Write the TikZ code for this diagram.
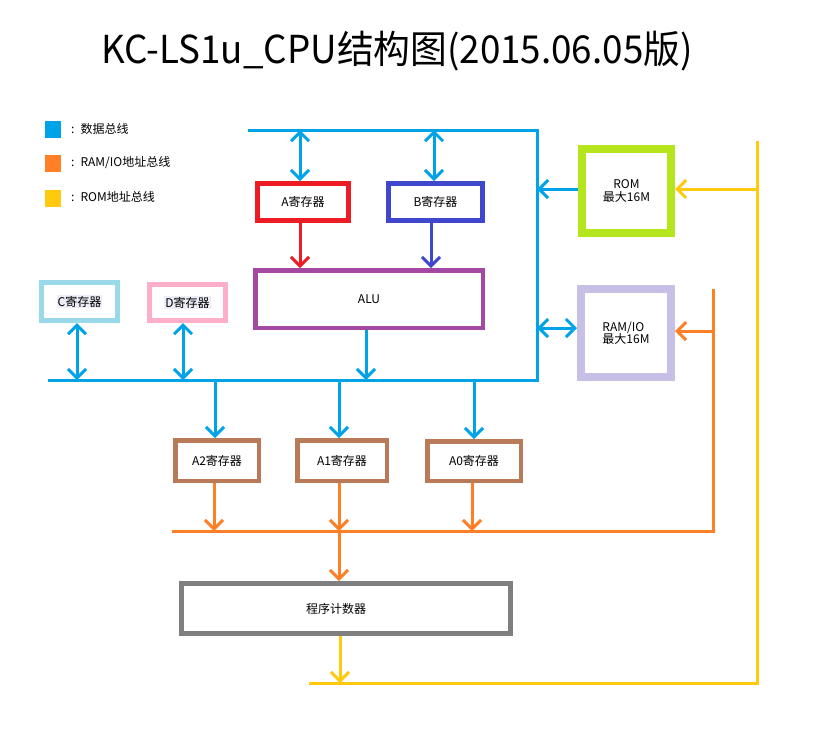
\documentclass[tikz,border=0pt]{standalone}
\usepackage{fontspec}
\setmainfont{Noto Sans CJK SC}
\usetikzlibrary{arrows.meta}
\definecolor{busblue}{HTML}{00A2E8}
\definecolor{aorange}{HTML}{FF7F27}
\definecolor{ayellow}{HTML}{FFC90E}
\definecolor{regred}{HTML}{ED1C24}
\definecolor{regindigo}{HTML}{3F48CC}
\definecolor{regpurple}{HTML}{A349A4}
\definecolor{reglblue}{HTML}{99D9EA}
\definecolor{regpink}{HTML}{FFAEC9}
\definecolor{regbrown}{HTML}{B97A57}
\definecolor{reggray}{HTML}{7F7F7F}
\definecolor{romlime}{HTML}{B5E61D}
\definecolor{ramlav}{HTML}{C8BFE7}
\definecolor{lblbg}{HTML}{ECEDF8}
\begin{document}
\begin{tikzpicture}[x=1pt,y=-1pt,
  >={Straight Barb[length=9pt,width=18pt]},
  bus/.style={line width=3pt},
  reg/.style={draw, rectangle, inner sep=0pt, font=\fontsize{12}{12.5}\selectfont},
  lbl/.style={font=\fontsize{12}{14}\selectfont, inner sep=1pt},
  legsq/.style={rectangle, inner sep=0pt, minimum width=16pt, minimum height=17pt},
]
\useasboundingbox (0,0) rectangle (835,740);

% title
\node[font=\fontsize{38.5}{40}\selectfont, inner sep=0pt] (title) at (397,51) {\scalebox{0.955}[1]{KC-LS1u\_CPU结构图(2015.06.05版)}};

% legend
\node[legsq, fill=busblue] (lg1) at (53,129.5) {};
\node[legsq, fill=aorange] (lg2) at (53,163.5) {};
\node[legsq, fill=ayellow] (lg3) at (53,198) {};
\node[lbl, anchor=west] (lt1) at (70,129) {:\hspace{6pt}数据总线};
\node[lbl, anchor=west] (lt2) at (70,163) {:\hspace{6pt}RAM/IO地址总线};
\node[lbl, anchor=west] (lt3) at (70,197) {:\hspace{6pt}ROM地址总线};

% registers and units
\node[reg, draw=regred, line width=5pt, minimum width=91pt, minimum height=37pt] (A) at (303,202) {A寄存器};
\node[reg, draw=regindigo, line width=5pt, minimum width=94pt, minimum height=37pt] (B) at (435.5,202) {B寄存器};
\node[reg, draw=regpurple, line width=4.5pt, minimum width=227.5pt, minimum height=57.5pt] (ALU) at (369,299) {ALU};
\node[reg, draw=romlime, line width=8pt, minimum width=89pt, minimum height=84pt, align=center] (ROM) at (626.5,191) {ROM\\最大16M};
\node[reg, draw=ramlav, line width=8pt, minimum width=90pt, minimum height=88pt, align=left] (RAM) at (626,333) {RAM/IO\\最大16M};
\node[reg, draw=reglblue, line width=5pt, minimum width=76pt, minimum height=38pt] (C) at (79.5,301.5) {};
\node[lbl, fill=lblbg] (Ct) at (C.center) {C寄存器};
\node[reg, draw=regpink, line width=5pt, minimum width=76pt, minimum height=36pt] (D) at (187.5,302.5) {};
\node[lbl, fill=lblbg] (Dt) at (D.center) {D寄存器};
\node[reg, draw=regbrown, line width=4.5pt, minimum width=83.5pt, minimum height=40.5pt] (A2) at (217,460.5) {A2寄存器};
\node[reg, draw=regbrown, line width=4.5pt, minimum width=89.5pt, minimum height=40.5pt] (A1) at (342,460.5) {A1寄存器};
\node[reg, draw=regbrown, line width=4.5pt, minimum width=93.5pt, minimum height=39.5pt] (A0) at (474,461) {A0寄存器};
\node[reg, draw=reggray, line width=5pt, minimum width=329pt, minimum height=50pt] (PC) at (346,608.5) {};
\node[lbl] (PCt) at (336,608.5) {程序计数器};

% data bus
\coordinate (tb0) at (248,130);
\coordinate (tbR) at (537,130);
\coordinate (bbR) at (537,380);
\coordinate (bb0) at (48,380);
\draw[bus, busblue] (tb0) -- (tbR) -- (bbR) -- (bb0);

\coordinate (ta) at (300,130);
\coordinate (tb) at (434,130);
\draw[bus, busblue, <->] (ta) -- (ta |- A.north);
\draw[bus, busblue, <->] (tb) -- (tb |- B.north);
\draw[bus, regred, ->] (A.south -| ta) -- (ta |- ALU.north);
\coordinate (xB) at (431,221);
\draw[bus, regindigo, ->] (xB) -- (xB |- ALU.north);
\coordinate (bALU) at (366,380);
\draw[bus, busblue, ->] (bALU |- ALU.south) -- (bALU);

\coordinate (rbus) at (537,189);
\draw[bus, busblue, ->] (rbus -| ROM.west) -- (rbus);
\coordinate (mbus) at (537,328);
\draw[bus, busblue, <->] (mbus) -- (mbus -| RAM.west);

\coordinate (cb) at (77,380);
\coordinate (db) at (183,380);
\draw[bus, busblue, <->] (cb |- C.south) -- (cb);
\draw[bus, busblue, <->] (db |- D.south) -- (db);

\coordinate (a2b) at (215,380);
\coordinate (a1b) at (339,380);
\coordinate (a0b) at (474,380);
\draw[bus, busblue, ->] (a2b) -- (a2b |- A2.north);
\draw[bus, busblue, ->] (a1b) -- (a1b |- A1.north);
\draw[bus, busblue, ->] (a0b) -- (a0b |- A0.north);

% RAM/IO address bus
\coordinate (o2) at (214,531);
\coordinate (o1) at (339,531);
\coordinate (o0) at (472,531);
\draw[bus, aorange, ->] (o2 |- A2.south) -- (o2);
\draw[bus, aorange, ->] (o1 |- A1.south) -- (o1);
\draw[bus, aorange, ->] (o0 |- A0.south) -- (o0);
\coordinate (ob0) at (172,531);
\coordinate (obR) at (713,531);
\coordinate (obT) at (713,289);
\draw[bus, aorange] (ob0) -- (obR) -- (obT);
\coordinate (oram) at (713,331);
\draw[bus, aorange, ->] (oram) -- (oram -| RAM.east);
\draw[bus, aorange, ->] (o1) -- (o1 |- PC.north);

% ROM address bus
\coordinate (ypc) at (340,683);
\draw[bus, ayellow, ->] (ypc |- PC.south) -- (ypc);
\coordinate (yb0) at (309,683);
\coordinate (ybR) at (757,683);
\coordinate (ybT) at (757,141);
\draw[bus, ayellow] (yb0) -- (ybR) -- (ybT);
\coordinate (yrom) at (757,189);
\draw[bus, ayellow, ->] (yrom) -- (yrom -| ROM.east);
\end{tikzpicture}
\end{document}
